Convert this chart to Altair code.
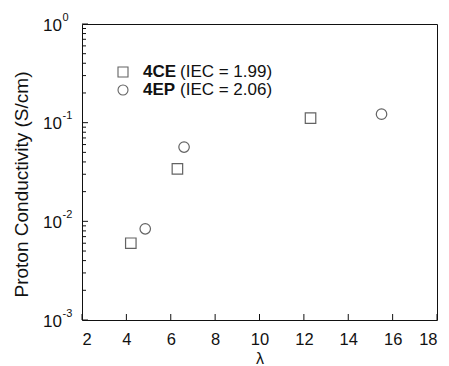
import altair as alt
import pandas as pd

# ---- data ----
lam_4ce = [4.2, 6.3, 12.3]
sig_4ce = [0.0060, 0.034, 0.111]
lam_4ep = [4.85, 6.6, 15.5]
sig_4ep = [0.0084, 0.0566, 0.122]
series_names = ["4CE", "4EP"]
series_shapes = ["square", "circle"]
legend_rest = ["(IEC = 1.99)", "(IEC = 2.06)"]

x_ticks = [2, 4, 6, 8, 10, 12, 14, 16, 18]
y_decades = [0.001, 0.01, 0.1, 1.0]
y_exponents = ["-3", "-2", "-1", "0"]
minor_mult = [2, 3, 4, 5, 6, 7, 8, 9]
y_minor = [m * d for d in y_decades[:-1] for m in minor_mult]

W, H = 355, 296
FONT = "Liberation Sans"

df = pd.DataFrame({
    "lam": lam_4ce + lam_4ep,
    "sigma": sig_4ce + sig_4ep,
    "series": [series_names[0]] * len(lam_4ce) + [series_names[1]] * len(lam_4ep),
})

xscale = alt.Scale(domain=[2, 18], nice=False, zero=False)
yscale = alt.Scale(type="log", domain=[0.001, 1], nice=False)

x_axis = alt.Axis(values=x_ticks, ticks=False, tickSize=0, domain=False, grid=False,
                  labelFontSize=16.5, labelPadding=24, labelBaseline="alphabetic",
                  labelColor="#111", titleFontSize=16, titleFontWeight="normal",
                  titleBaseline="alphabetic", titleY=43, titleColor="#111")
y_axis = alt.Axis(labels=False, ticks=False, tickSize=0, domain=False, grid=False,
                  titleFontSize=19, titleFontWeight="normal", titleAngle=-90,
                  titleBaseline="alphabetic", titleAlign="center",
                  titleX=-55, titleY=H / 2 + 12, titleColor="#111")
X_TITLE = "λ"
Y_TITLE = "Proton Conductivity (S/cm)"

points = alt.Chart(df).mark_point(filled=False, size=110, strokeWidth=1.2, color="#222").encode(
    x=alt.X("lam:Q", scale=xscale, title=X_TITLE, axis=x_axis),
    y=alt.Y("sigma:Q", scale=yscale, title=Y_TITLE, axis=y_axis),
    shape=alt.Shape("series:N", scale=alt.Scale(domain=series_names, range=series_shapes), legend=None),
)

ymaj_df = pd.DataFrame({"v": y_decades, "e": y_exponents})
ymin_df = pd.DataFrame({"v": y_minor})
xt_df = pd.DataFrame({"v": x_ticks})

def Yv():
    return alt.Y("v:Q", scale=yscale, title=Y_TITLE, axis=y_axis)

def Xv():
    return alt.X("v:Q", scale=xscale, title=X_TITLE, axis=x_axis)

ymaj_ticks = alt.Chart(ymaj_df).mark_rule(color="#111", strokeWidth=1).encode(
    y=Yv(), x=alt.value(0), x2=alt.value(6))
ymin_ticks = alt.Chart(ymin_df).mark_rule(color="#111", strokeWidth=1).encode(
    y=Yv(), x=alt.value(0), x2=alt.value(4))
x_tick_rules = alt.Chart(xt_df).mark_rule(color="#111", strokeWidth=1).encode(
    x=Xv(), y=alt.value(H), y2=alt.value(H - 6))

ylab_base = alt.Chart(ymaj_df).mark_text(
    align="right", baseline="alphabetic", fontSize=17, dy=6.5, color="#111", font=FONT
).encode(y=Yv(), x=alt.value(-20), text=alt.value("10"))
ylab_exp = alt.Chart(ymaj_df).mark_text(
    align="left", baseline="alphabetic", fontSize=11, dy=-3.3, color="#111", font=FONT
).encode(y=Yv(), x=alt.value(-19.5), text="e:N")

legend_layers = []
for i, (name, shp, rest) in enumerate(zip(series_names, series_shapes, legend_rest)):
    ly = 48 + 18 * i
    ldf = pd.DataFrame({"name": [name], "rest": [rest]})
    legend_layers.append(alt.Chart(ldf).mark_point(
        shape=shp, filled=False, size=100, strokeWidth=1.1, color="#222"
    ).encode(x=alt.value(41), y=alt.value(ly)))
    legend_layers.append(alt.Chart(ldf).mark_text(
        align="left", baseline="middle", fontSize=17, fontWeight="bold", color="#111", font=FONT
    ).encode(x=alt.value(61), y=alt.value(ly), text="name:N"))
    legend_layers.append(alt.Chart(ldf).mark_text(
        align="left", baseline="middle", fontSize=17, color="#111", font=FONT
    ).encode(x=alt.value(98), y=alt.value(ly), text="rest:N"))

chart = alt.layer(
    points, ymaj_ticks, ymin_ticks, x_tick_rules, ylab_base, ylab_exp, *legend_layers
).properties(
    width=W, height=H,
    autosize=alt.AutoSizeParams(type="none"),
    padding={"left": 82, "top": 24, "right": 12, "bottom": 46},
).configure(
    font=FONT, background="white"
).configure_view(
    stroke="#111", strokeWidth=1
)

chart.save("out.html", embed_options={"renderer": "svg", "actions": False})
